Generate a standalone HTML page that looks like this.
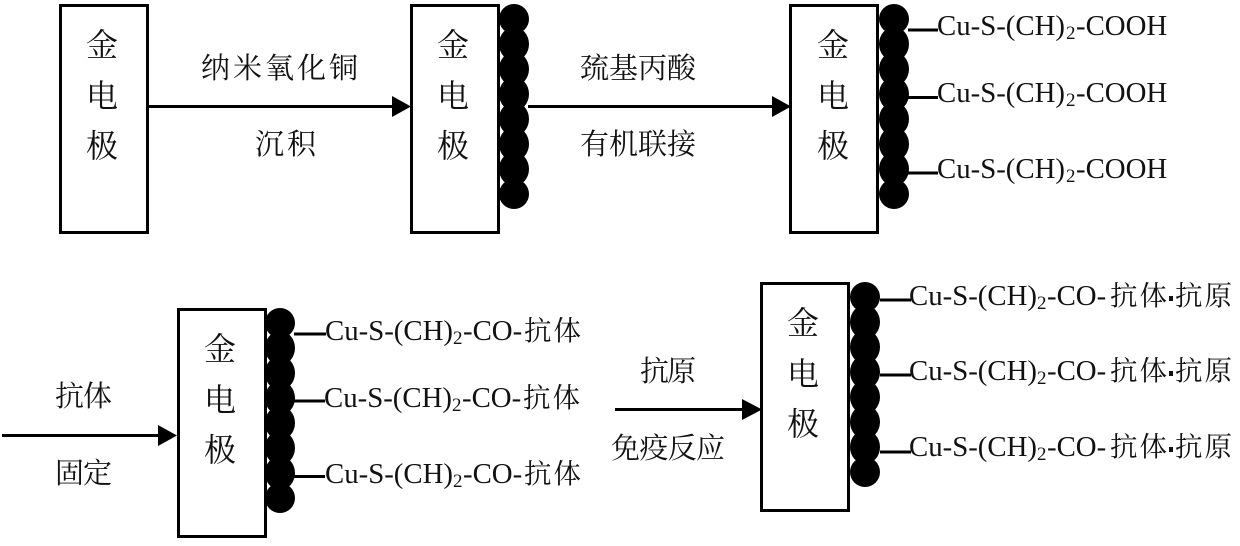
<!DOCTYPE html>
<html><head><meta charset="utf-8"><style>
html,body{margin:0;padding:0;background:#fff}
svg{display:block}
.c{font-family:"Liberation Serif","Noto Serif CJK SC",serif;fill:#111}
.l{font-size:29px}
.e{font-size:32px;text-anchor:middle}
.t{font-family:"Liberation Serif",serif;font-size:28.8px;fill:#111}
.s{font-family:"Liberation Serif",serif;font-size:19px;fill:#111}
.k{font-size:27.5px;letter-spacing:2px}
</style></head><body>
<svg width="1240" height="546" viewBox="0 0 1240 546" xmlns="http://www.w3.org/2000/svg">
<rect width="1240" height="546" fill="#fff"/>
<g fill="#fff" stroke="#000" stroke-width="3">
<rect x="60.5" y="5.5" width="87" height="227"/>
<rect x="411.5" y="5.5" width="87" height="227"/>
<rect x="790.5" y="5.5" width="87" height="227"/>
<rect x="178.5" y="309.5" width="87" height="227"/>
<rect x="761.5" y="283.5" width="87" height="227"/>
</g>
<g fill="#000">
<circle cx="514" cy="19" r="15"/><ellipse cx="514" cy="44" rx="15" ry="17"/><ellipse cx="514" cy="69" rx="15" ry="17"/><ellipse cx="514" cy="94" rx="15" ry="17"/><ellipse cx="514" cy="119" rx="15" ry="17"/><ellipse cx="514" cy="144" rx="15" ry="17"/><ellipse cx="514" cy="169" rx="15" ry="17"/><circle cx="514" cy="194" r="15"/>
<circle cx="894" cy="19" r="15"/><ellipse cx="894" cy="44" rx="15" ry="17"/><ellipse cx="894" cy="69" rx="15" ry="17"/><ellipse cx="894" cy="94" rx="15" ry="17"/><ellipse cx="894" cy="119" rx="15" ry="17"/><ellipse cx="894" cy="144" rx="15" ry="17"/><ellipse cx="894" cy="169" rx="15" ry="17"/><circle cx="894" cy="194" r="15"/>
<circle cx="280" cy="323" r="15"/><ellipse cx="280" cy="348" rx="15" ry="17"/><ellipse cx="280" cy="373" rx="15" ry="17"/><ellipse cx="280" cy="398" rx="15" ry="17"/><ellipse cx="280" cy="423" rx="15" ry="17"/><ellipse cx="280" cy="448" rx="15" ry="17"/><ellipse cx="280" cy="473" rx="15" ry="17"/><circle cx="280" cy="498" r="15"/>
<circle cx="865" cy="297" r="15"/><ellipse cx="865" cy="322" rx="15" ry="17"/><ellipse cx="865" cy="347" rx="15" ry="17"/><ellipse cx="865" cy="372" rx="15" ry="17"/><ellipse cx="865" cy="397" rx="15" ry="17"/><ellipse cx="865" cy="422" rx="15" ry="17"/><ellipse cx="865" cy="447" rx="15" ry="17"/><circle cx="865" cy="472" r="15"/>
<polygon points="392,96 411,106.5 392,117"/>
<polygon points="772,96 791,106.5 772,117"/>
<polygon points="158,425 177,435.5 158,446"/>
<polygon points="742,399 762,409.5 742,420"/>
</g>
<g stroke="#000" stroke-width="3" fill="none">
<path d="M148 106.5H393M528 106.5H773M2 435.5H159M615 409.5H743"/>
<path d="M908 30H938M908 97.5H938M908 173H938"/>
<path d="M294 334H326M294 401H325M294 476.5H325"/>
<path d="M880 300H911M880 375H911M880 452H911"/>
</g>
<g class="c e">
<text x="102" y="56">金</text><text x="102" y="107">电</text><text x="102" y="157">极</text>
<text x="453" y="56">金</text><text x="453" y="107">电</text><text x="453" y="157">极</text>
<text x="833" y="56">金</text><text x="833" y="107">电</text><text x="833" y="157">极</text>
<text x="220" y="360">金</text><text x="220" y="411">电</text><text x="220" y="461">极</text>
<text x="803" y="334">金</text><text x="803" y="385">电</text><text x="803" y="435">极</text>
</g>
<g class="c l">
<text x="201" y="78" textLength="157" lengthAdjust="spacing">纳米氧化铜</text>
<text x="255" y="154" textLength="61" lengthAdjust="spacing">沉积</text>
<text x="580" y="78" textLength="116" lengthAdjust="spacing">巯基丙酸</text>
<text x="580" y="154" textLength="116" lengthAdjust="spacing">有机联接</text>
<text x="55" y="406" textLength="57" lengthAdjust="spacing">抗体</text>
<text x="55" y="483" textLength="57" lengthAdjust="spacing">固定</text>
<text x="640" y="381" textLength="56" lengthAdjust="spacing">抗原</text>
<text x="611" y="458" textLength="114" lengthAdjust="spacing">免疫反应</text>
</g>
<g>
<text class="t" x="937" y="35">Cu-S-(CH)</text><text class="s" x="1066" y="39">2</text><text class="t" x="1076" y="35">-COOH</text>
<text class="t" x="937" y="102">Cu-S-(CH)</text><text class="s" x="1066" y="106">2</text><text class="t" x="1076" y="102">-COOH</text>
<text class="t" x="937" y="178">Cu-S-(CH)</text><text class="s" x="1066" y="182">2</text><text class="t" x="1076" y="178">-COOH</text>

<text class="t" x="325" y="340">Cu-S-(CH)</text><text class="s" x="453" y="344">2</text><text class="t" x="463" y="340">-CO-</text><text class="c k" x="524" y="340">抗体</text>
<text class="t" x="324" y="407">Cu-S-(CH)</text><text class="s" x="452" y="411">2</text><text class="t" x="462" y="407">-CO-</text><text class="c k" x="523" y="407">抗体</text>
<text class="t" x="325" y="483">Cu-S-(CH)</text><text class="s" x="453" y="487">2</text><text class="t" x="463" y="483">-CO-</text><text class="c k" x="524" y="483">抗体</text>

<text class="t" x="909" y="305">Cu-S-(CH)</text><text class="s" x="1037" y="309">2</text><text class="t" x="1047" y="305">-CO-</text><text class="c k" x="1110" y="305">抗体</text><rect x="1169" y="296" width="4" height="5" fill="#111"/><text class="c k" x="1175" y="305">抗原</text>
<text class="t" x="909" y="380">Cu-S-(CH)</text><text class="s" x="1037" y="384">2</text><text class="t" x="1047" y="380">-CO-</text><text class="c k" x="1110" y="380">抗体</text><rect x="1169" y="371" width="4" height="5" fill="#111"/><text class="c k" x="1175" y="380">抗原</text>
<text class="t" x="909" y="456">Cu-S-(CH)</text><text class="s" x="1037" y="460">2</text><text class="t" x="1047" y="456">-CO-</text><text class="c k" x="1110" y="456">抗体</text><rect x="1169" y="447" width="4" height="5" fill="#111"/><text class="c k" x="1175" y="456">抗原</text>
</g>
</svg>
</body></html>
